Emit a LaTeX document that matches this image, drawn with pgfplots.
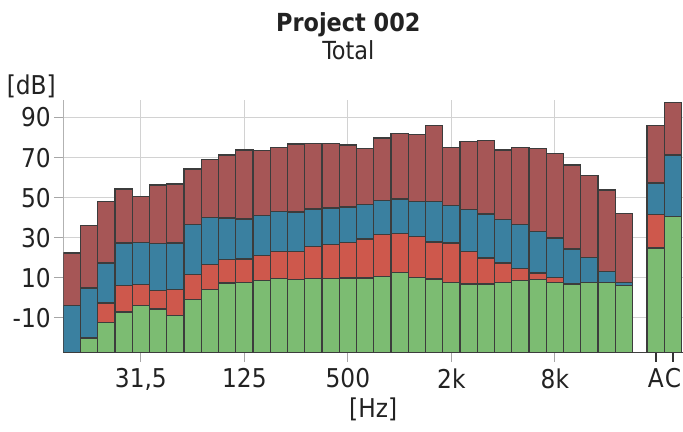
\documentclass[border=0pt]{standalone}
\usepackage{fontspec}
\setmainfont{DejaVu Sans Condensed}
\usepackage{pgfplots}
\pgfplotsset{compat=1.18}
\usepackage{pgfplotstable}
\definecolor{cTop}{RGB}{166,86,86}
\definecolor{cBlue}{RGB}{58,128,160}
\definecolor{cRed}{RGB}{206,88,76}
\definecolor{cGreen}{RGB}{124,188,114}
\definecolor{cTxt}{RGB}{34,34,34}
\definecolor{cEdge}{RGB}{60,60,60}
\pgfplotstableread{
x top blue red green
0 22.4 -3.8 -30 -30
1 36.0 4.9 -21 -20.0
2 48.1 17.4 -2.6 -12.2
3 54.3 27.4 6.1 -7.1
4 50.6 27.7 6.6 -3.9
5 56.3 27.0 3.6 -5.6
6 56.8 27.4 4.1 -8.9
7 64.4 36.5 11.5 -0.9
8 69.2 40.1 16.5 4.1
9 71.4 39.8 19.0 7.4
10 73.9 39.3 19.4 7.7
11 73.5 41.0 21.2 8.7
12 75.2 43.1 23.2 9.6
13 76.9 42.8 23.2 9.1
14 77.2 44.3 25.7 9.6
15 77.2 44.8 26.5 9.6
16 76.4 45.3 27.7 9.9
17 74.7 46.5 29.4 9.9
18 79.7 48.5 31.5 10.7
19 81.9 49.3 32.0 12.7
20 81.4 48.1 30.7 10.2
21 86.0 48.1 27.8 9.4
22 75.2 46.0 27.4 7.7
23 78.0 44.0 23.2 6.9
24 78.5 41.8 19.9 6.9
25 73.9 39.0 17.4 7.7
26 75.0 36.5 14.5 8.7
27 74.7 33.1 12.4 9.1
28 72.2 29.9 10.2 7.7
29 66.4 24.4 6.0 6.9
30 61.1 20.2 6.0 7.7
31 53.9 13.2 6.0 7.7
32 42.0 7.7 5.0 6.1
33.85 85.9 57.3 41.5 24.9
34.85 97.5 71.4 39.0 40.6
}\bands
\begin{document}
\begin{tikzpicture}
\begin{axis}[name=ax, scale only axis, width=620bp, height=253bp,
  xmin=-0.5, xmax=35.43, ymin=0, ymax=126.3,
  clip mode=individual,
  axis lines*=left,
  axis line style={-},
  x axis line style={draw=black!75, line width=1bp},
  y axis line style={draw=gray!60, line width=0.8bp},
  tick align=outside, major tick length=9bp,
  tick style={draw=gray!70, line width=0.8bp},
  xtick={4,10,16,22,28},
  xticklabels={{31,5},125,500,2k,8k},
  extra x ticks={33.85,34.85},
  extra x tick labels={A,C},
  extra x tick style={grid=none, tick style={draw=black!80, line width=1.6bp}},
  ytick={17.5,37.5,57.5,77.5,97.5,117.5},
  yticklabels={-10,10,30,50,70,90},
  grid=major, grid style={draw=gray!35, line width=0.8bp},
  ticklabel style={font=\fontsize{26}{28}\selectfont, text=cTxt},
  xticklabel style={yshift=-3bp},
  every axis plot/.append style={ybar, bar shift=0pt, bar width=1, draw=cEdge, line width=1.4bp},
]
\addplot[fill=cTop] table[x=x, y expr=\thisrow{top}+27.5] {\bands};
\addplot[fill=cBlue] table[x=x, y expr=\thisrow{blue}+27.5] {\bands};
\addplot[fill=cRed] table[x=x, y expr=\thisrow{red}+27.5] {\bands};
\addplot[fill=cGreen] table[x=x, y expr=\thisrow{green}+27.5] {\bands};
\node[anchor=base, font=\bfseries\fontsize{25}{28}\selectfont, text=cTxt, yshift=68bp] at (rel axis cs:0.46,1) {Project 002};
\node[anchor=base, font=\fontsize{25}{28}\selectfont, text=cTxt, yshift=40bp] at (rel axis cs:0.46,1) {Total};
\node[anchor=base, font=\fontsize{26}{28}\selectfont, text=cTxt, xshift=-32bp, yshift=5bp] at (rel axis cs:0,1) {[dB]};
\node[anchor=base, font=\fontsize{26}{28}\selectfont, text=cTxt, yshift=-65bp] at (rel axis cs:0.5,0) {[Hz]};
\end{axis}
\pgfresetboundingbox
\path[use as bounding box] ([xshift=-63.3bp,yshift=-79bp]ax.south west) rectangle ([yshift=100bp]ax.north east);
\end{tikzpicture}
\end{document}
